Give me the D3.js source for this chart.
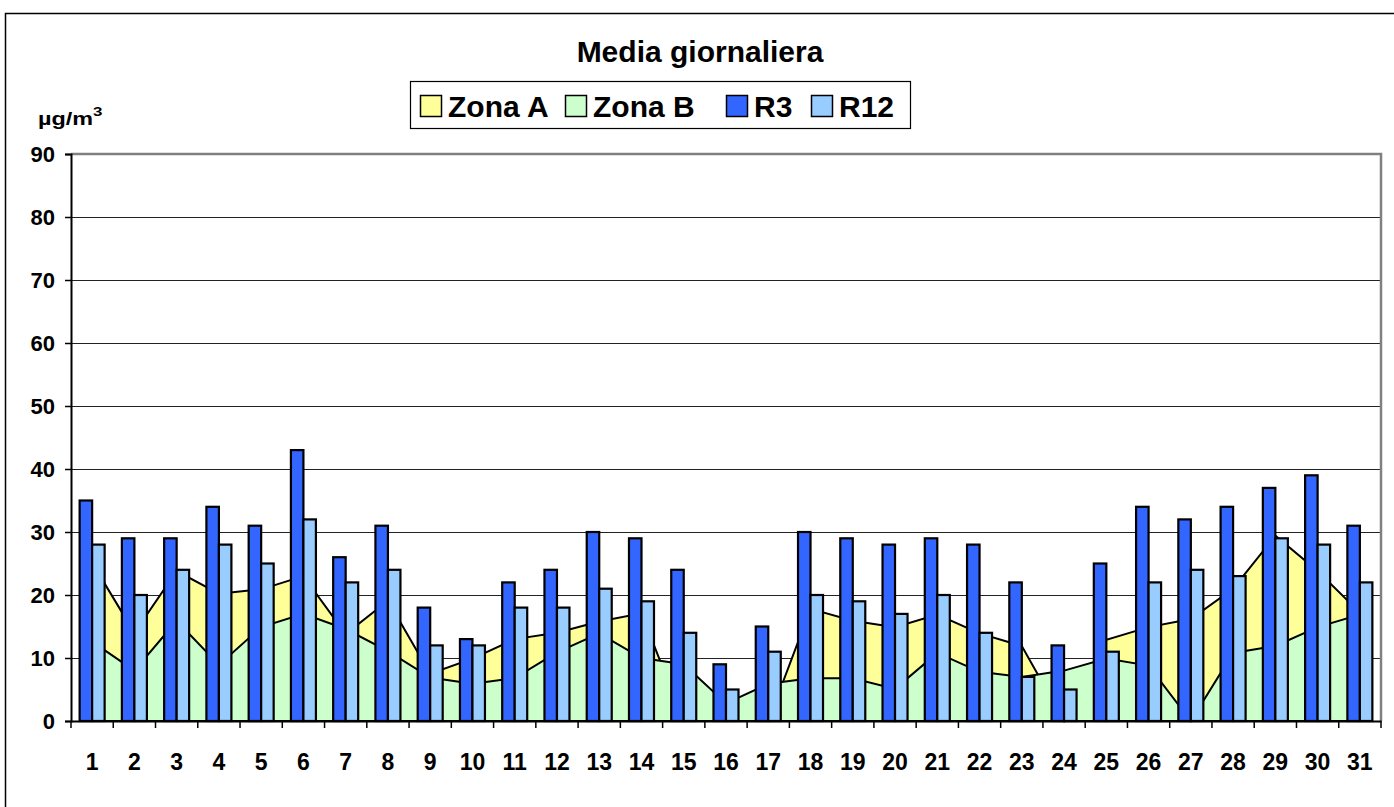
<!DOCTYPE html>
<html><head><meta charset="utf-8">
<script src="https://cdn.jsdelivr.net/npm/d3@7"></script>
<style>
html,body{margin:0;padding:0;background:#fff;overflow:hidden}
svg{display:block;font-family:"Liberation Sans",Arial,sans-serif;font-weight:bold}
</style></head>
<body>
<svg id="chart" width="1394" height="807"></svg>
<script>
const days = ["1","2","3","4","5","6","7","8","9","10","11","12","13","14","15","16","17","18","19","20","21","22","23","24","25","26","27","28","29","30","31"];
const zonaA = [25.1,14.0,23.8,20.2,20.9,23.0,13.8,19.1,7.5,9.9,13.0,14.0,15.8,17.1,0,0,0,17.8,15.9,14.9,16.9,13.9,11.9,0,12.9,14.9,16.2,21.0,29.4,23.8,17.2];
const zonaB = [12.6,8.0,15.9,8.9,14.9,17.0,14.6,11.1,6.9,5.9,6.8,10.9,13.9,10.0,9.0,2.8,5.9,6.8,6.8,5.1,10.8,7.8,7.0,8.0,9.9,8.8,0,10.8,11.9,14.9,16.9];
const r3  = [35,29,29,34,31,43,26,31,18,13,22,24,30,29,24,9,15,30,29,28,29,28,22,12,25,34,32,34,37,39,31];
const r12 = [28,20,24,28,25,32,22,24,12,12,18,18,21,19,14,5,11,20,19,17,20,14,7,5,11,22,24,23,29,28,22];
const yTicks = [0,10,20,30,40,50,60,70,80,90];
const legendNames = ["Zona A","Zona B","R3","R12"];
const colors = {"Zona A":"#FFFF99","Zona B":"#CCFFCC","R3":"#3366FF","R12":"#99CCFF"};

const svg = d3.select("#chart");
const L = 71, R = 1381, T = 154, B = 721;

// outer border
svg.append("rect").attr("x",5.5).attr("y",13.5).attr("width",1400).attr("height",900)
  .attr("fill","#fff").attr("stroke","#000").attr("stroke-width",1.5);

const x = d3.scaleBand().domain(days).range([L,R]).paddingInner(0).paddingOuter(0);
const y = d3.scaleLinear().domain([0,90]).range([B,T]);
const xs = d3.scaleBand().domain(["R3","R12"]).range([0,x.bandwidth()]).paddingInner(0).paddingOuter(0.69);

// gridlines
svg.append("g").selectAll("line").data(yTicks.filter(d=>d>0 && d<90)).join("line")
  .attr("x1",L).attr("x2",R).attr("y1",d=>Math.round(y(d))+0.5).attr("y2",d=>Math.round(y(d))+0.5)
  .attr("stroke","#222").attr("stroke-width",1.2);

// areas
const cx = (d,i)=>x(days[i])+x.bandwidth()/2;
const mkArea = arr => d3.area().x((d,i)=>cx(d,i)).y0(y(0)).y1(d=>y(d))(arr);
svg.append("path").attr("d",mkArea(zonaA)).attr("fill",colors["Zona A"]).attr("stroke","#000").attr("stroke-width",2).attr("stroke-linejoin","miter");
svg.append("path").attr("d",mkArea(zonaB)).attr("fill",colors["Zona B"]).attr("stroke","#000").attr("stroke-width",2).attr("stroke-linejoin","miter");

// bars
const barData = [];
days.forEach((d,i)=>{ barData.push({day:d,s:"R3",v:r3[i]}); barData.push({day:d,s:"R12",v:r12[i]}); });
svg.append("g").selectAll("rect").data(barData).join("rect")
  .attr("x",d=>x(d.day)+xs(d.s))
  .attr("width",xs.bandwidth())
  .attr("y",d=>y(d.v))
  .attr("height",d=>y(0)-y(d.v))
  .attr("fill",d=>colors[d.s]).attr("stroke","#000").attr("stroke-width",2.2);

// plot area border (top/right gray)
svg.append("path").attr("d",`M${L},${T}H${R}V${B}`).attr("fill","none").attr("stroke","#808080").attr("stroke-width",2.5);

// y axis
const yAxis = d3.axisLeft(y).tickValues(yTicks).tickSize(6).tickPadding(10);
const gy = svg.append("g").attr("transform",`translate(${L},0)`).call(yAxis);
gy.select(".domain").attr("stroke","#000").attr("stroke-width",2);
gy.selectAll(".tick line").attr("stroke","#000").attr("stroke-width",1.5);
gy.selectAll("text").attr("font-size",22).attr("font-weight","bold").attr("fill","#000")
  .attr("font-family","Liberation Sans, Arial, sans-serif");

// x axis
const xAxis = d3.axisBottom(x).tickSize(0).tickPadding(33);
const gx = svg.append("g").attr("transform",`translate(0,${B})`).call(xAxis);
gx.select(".domain").attr("stroke","#000").attr("stroke-width",2);
gx.selectAll("text").attr("font-size",23).attr("font-weight","bold").attr("fill","#000")
  .attr("font-family","Liberation Sans, Arial, sans-serif");
// category boundary ticks
svg.append("g").selectAll("line").data(days.concat(["end"])).join("line")
  .attr("x1",(d,i)=>i<days.length?x(d):R).attr("x2",(d,i)=>i<days.length?x(d):R)
  .attr("y1",B).attr("y2",B+7).attr("stroke","#000").attr("stroke-width",1.5);

// title
svg.append("text").attr("x",700).attr("y",62).attr("text-anchor","middle")
  .attr("font-size",30).text("Media giornaliera");

// unit label
const ut = svg.append("text").attr("transform","translate(38,125) scale(1.3,1)").attr("font-size",18);
ut.append("tspan").text("µg/m");
ut.append("tspan").attr("dy",-9).attr("font-size",13).text("3");

// legend
svg.append("rect").attr("x",410.5).attr("y",81.5).attr("width",500).attr("height",47)
  .attr("fill","#fff").attr("stroke","#000").attr("stroke-width",1.2);
const legX = [420,565,726,811];
const lg = svg.append("g").selectAll("g").data(legendNames).join("g")
  .attr("transform",(d,i)=>`translate(${legX[i]},0)`);
lg.append("rect").attr("x",0.5).attr("y",95.5).attr("width",21).attr("height",21)
  .attr("fill",d=>colors[d]).attr("stroke","#000").attr("stroke-width",1.5);
lg.append("text").attr("x",28).attr("y",117).attr("font-size",30).text(d=>d);
</script>
</body></html>
